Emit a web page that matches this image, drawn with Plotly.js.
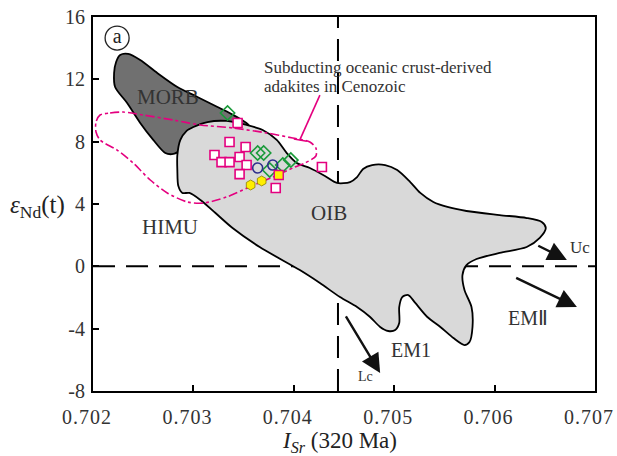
<!DOCTYPE html>
<html>
<head>
<meta charset="utf-8">
<script src="https://cdn.plot.ly/plotly-3.0.1.min.js"></script>
<style>
html,body{margin:0;padding:0;background:#fff;}
#chart{width:617px;height:456px;}
.xtick text{letter-spacing:1px;}
</style>
</head>
<body>
<div id="chart"></div>
<script>
// Axis ticks
const xTicks = [0.702, 0.703, 0.704, 0.705, 0.706, 0.707];
const xTickText = ['0.702', '0.703', '0.704', '0.705', '0.706', '0.707'];
const yTicks = [-8, -4, 0, 4, 8, 12, 16];
const yTickText = ['-8', '-4', '0', '4', '8', '12', '16'];

// Reference lines
const refLineX = 0.70444;
const refLineY = 0;

// MORB field outline
const morbX = [0.70227,0.70235,0.70247,0.70264,0.70284,0.70304,0.70324,0.70336,0.70356,0.70294,0.70280,0.70272,0.70260,0.70247,0.70234,0.70222,0.70221,0.70223,0.70227];
const morbY = [13.56,13.63,13.24,12.41,11.51,10.87,10.22,9.84,8.94,7.66,7.21,7.27,8.11,9.20,10.48,11.51,12.41,13.11,13.56];

// OIB field outline
const oibX = [0.70284,0.70287,0.70293,0.70300,0.70314,0.70333,0.70353,0.70369,0.70383,0.70393,0.70403,0.70416,0.70431,0.70443,0.70456,0.70463,0.70469,0.70478,0.70491,0.70503,0.70516,0.70526,0.70539,0.70553,0.70572,0.70605,0.70632,0.70647,0.70651,0.70645,0.70632,0.70605,0.70582,0.70572,0.70568,0.70570,0.70577,0.70578,0.70575,0.70570,0.70559,0.70546,0.70533,0.70521,0.70514,0.70508,0.70505,0.70505,0.70501,0.70494,0.70486,0.70476,0.70463,0.70446,0.70426,0.70406,0.70366,0.70339,0.70322,0.70307,0.70296,0.70289,0.70285,0.70284,0.70284];
const oibY = [7.14,8.11,8.68,8.94,9.26,9.33,9.07,8.75,8.11,7.27,6.63,6.31,5.80,5.35,5.41,5.73,6.25,6.50,6.50,6.18,5.41,4.71,4.13,3.81,3.55,3.29,3.10,2.84,2.46,1.82,1.24,0.86,0.47,0.08,-0.56,-1.52,-2.61,-3.89,-4.86,-5.05,-4.60,-3.89,-3.25,-2.35,-1.84,-1.97,-2.61,-3.64,-4.09,-4.15,-3.89,-3.25,-2.61,-1.97,-1.07,-0.24,1.24,2.46,3.42,4.26,4.71,4.71,5.15,6.18,7.14];

// Cenozoic adakite field (dash-dot loop)
const adakX = [0.70207,0.70217,0.70230,0.70250,0.70280,0.70307,0.70339,0.70373,0.70399,0.70416,0.70422,0.70422,0.70411,0.70401,0.70379,0.70356,0.70333,0.70310,0.70294,0.70274,0.70257,0.70240,0.70224,0.70207,0.70203,0.70203,0.70207];
const adakY = [9.71,9.84,9.90,9.71,9.39,9.07,8.88,8.56,8.23,7.98,7.59,7.08,6.63,6.37,5.73,5.09,4.45,4.06,4.13,4.71,5.54,6.63,7.46,8.11,8.62,9.26,9.71];

// Leader line to the adakite field
const leaderX = [0.70426, 0.70406, null, 0.70400, 0.70413];
const leaderY = [10.99, 8.11, null, 8.17, 8.03];

// Samples
const sqX = [0.70344,0.70336,0.70352,0.70321,0.70328,0.70336,0.70346,0.70353,0.70346,0.70382,0.70428];
const sqY = [9.20,7.98,7.66,7.14,6.69,6.69,7.02,6.50,5.92,5.03,6.37];
const dmX = [0.70334,0.70364,0.70370,0.70376,0.70389,0.70397];
const dmY = [9.84,7.27,7.27,6.18,6.50,6.82];
const ciX = [0.70364,0.70379];
const ciY = [6.31,6.50];
const hxX = [0.70357,0.70368];
const hxY = [5.22,5.48];
const ysqX = [0.70385];
const ysqY = [5.86];

// Panel label
const panelX = [0.70224];
const panelY = [14.65];
const panelText = ['a'];

// Field labels
const labelText = ['MORB', 'OIB', 'HIMU', 'EM1', 'EMⅡ', 'Uc', 'Lc'];
const labelX = [0.70275, 0.70435, 0.70277, 0.70517, 0.70633, 0.70685, 0.70471];
const labelY = [10.87, 3.42, 2.52, -5.37, -3.32, 1.18, -7.10];
const labelSize = [21, 21, 21, 20, 20, 17, 14];

// Arrows: tail -> head
const arrowTailX = [0.70642, 0.70620, 0.70451];
const arrowTailY = [1.37, -0.69, -3.12];
const arrowHeadX = [0.70672, 0.70682, 0.70486];
const arrowHeadY = [0.41, -2.61, -6.85];

// Note text
const noteLines = ['Subducting oceanic crust-derived', 'adakites in Cenozoic'];
const noteX = 0.70368;
const noteY = [12.73, 11.57];

const serif = 'Liberation Serif, serif';
const pink = '#e4007f';

const traces = [
  {x: [refLineX, refLineX], y: [-8, 16], mode: 'lines', line: {color: '#000', width: 2, dash: '22px,11px'}, hoverinfo: 'skip'},
  {x: [0.702, 0.707], y: [refLineY, refLineY], mode: 'lines', line: {color: '#000', width: 2, dash: '22px,11px'}, hoverinfo: 'skip'},
  {x: morbX, y: morbY, mode: 'lines', fill: 'toself', fillcolor: '#707070', line: {color: '#000', width: 1.8, shape: 'spline', smoothing: 0.8}},
  {x: oibX, y: oibY, mode: 'lines', fill: 'toself', fillcolor: '#d9d9d9', line: {color: '#000', width: 1.8, shape: 'spline', smoothing: 0.8}},
  {x: adakX, y: adakY, mode: 'lines', line: {color: pink, width: 1.6, dash: 'dashdot', shape: 'spline', smoothing: 0.8}},
  {x: leaderX, y: leaderY, mode: 'lines', line: {color: pink, width: 1.6}},
  {x: sqX, y: sqY, mode: 'markers', marker: {symbol: 'square', size: 9, color: '#fff', line: {color: pink, width: 1.6}}},
  {x: dmX, y: dmY, mode: 'markers', marker: {symbol: 'diamond-open', size: 11, color: '#1a9a3a', line: {color: '#1a9a3a', width: 1.6}}},
  {x: ciX, y: ciY, mode: 'markers', marker: {symbol: 'circle-open', size: 10, color: '#2e2e8c', line: {color: '#2e2e8c', width: 1.6}}},
  {x: hxX, y: hxY, mode: 'markers', marker: {symbol: 'hexagon', size: 10, color: '#ffee00', line: {color: '#8a7d00', width: 0.8}}},
  {x: ysqX, y: ysqY, mode: 'markers', marker: {symbol: 'square', size: 9, color: '#ffee00', line: {color: pink, width: 1.4}}},
  {x: panelX, y: panelY, mode: 'markers+text', text: panelText, textposition: 'middle center', textfont: {family: serif, size: 20, color: '#222'}, marker: {symbol: 'circle-open', size: 24, color: '#222', line: {color: '#222', width: 1.3}}}
];

const annotations = [];
labelText.forEach((t, i) => annotations.push({x: labelX[i], y: labelY[i], xref: 'x', yref: 'y', text: t, showarrow: false, font: {family: serif, size: labelSize[i], color: '#333'}}));
arrowTailX.forEach((tx, i) => annotations.push({x: arrowHeadX[i], y: arrowHeadY[i], ax: tx, ay: arrowTailY[i], xref: 'x', yref: 'y', axref: 'x', ayref: 'y', text: '', showarrow: true, arrowhead: 2, arrowsize: 1.6, arrowwidth: 2.4, arrowcolor: '#111'}));
noteLines.forEach((t, i) => annotations.push({x: noteX, y: noteY[i], xref: 'x', yref: 'y', xanchor: 'left', text: t, showarrow: false, font: {family: serif, size: 17, color: '#333'}}));
annotations.push({x: -0.17, y: 0.492, xref: 'paper', yref: 'paper', xanchor: 'left', yanchor: 'middle', text: "<i>ε</i><sub>Nd</sub>(t)", showarrow: false, font: {family: serif, size: 25, color: '#222'}});
annotations.push({x: 0.492, y: -0.137, xref: 'paper', yref: 'paper', xanchor: 'center', yanchor: 'middle', text: "<i>I</i><sub><i>Sr</i></sub> (320 Ma)", showarrow: false, font: {family: serif, size: 23, color: '#222'}});

const axisCommon = {showgrid: false, zeroline: false, showline: true, linecolor: '#000', linewidth: 2, mirror: true, ticks: 'inside', ticklen: 6, tickwidth: 2, tickcolor: '#000', ticklabeloverflow: 'allow'};

const layout = {
  width: 617, height: 456,
  margin: {l: 93, r: 22, t: 17, b: 65},
  paper_bgcolor: '#fff', plot_bgcolor: '#fff',
  font: {family: serif, size: 20, color: '#333'},
  showlegend: false,
  xaxis: Object.assign({}, axisCommon, {range: [0.7019999, 0.7070001], tickmode: 'array', tickvals: xTicks, ticktext: xTickText, ticklabelstandoff: 7, ticklabelshift: -6, tickfont: {family: serif, size: 20, color: '#333'}}),
  yaxis: Object.assign({}, axisCommon, {range: [-8, 16], tickmode: 'array', tickvals: yTicks, ticktext: yTickText, ticklabelstandoff: 2, tickfont: {family: serif, size: 20, color: '#333'}}),
  annotations: annotations
};

Plotly.newPlot('chart', traces, layout, {staticPlot: true});
</script>
</body>
</html>
